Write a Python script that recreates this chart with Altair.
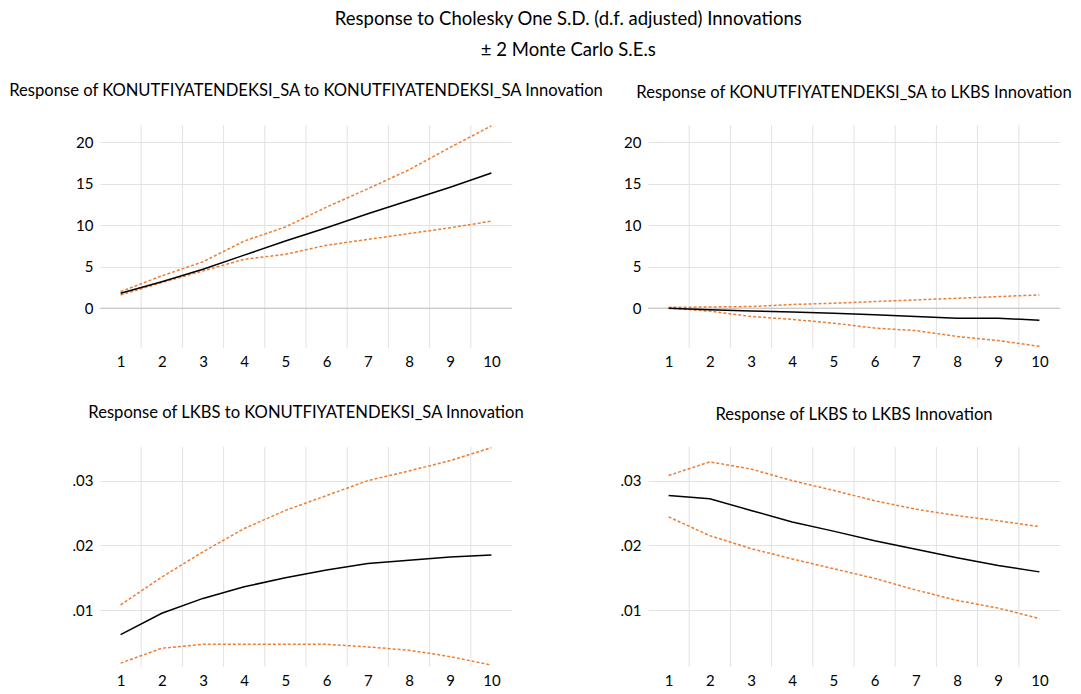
import altair as alt
import pandas as pd

steps = [1, 2, 3, 4, 5, 6, 7, 8, 9, 10]
boundaries = [1.5, 2.5, 3.5, 4.5, 5.5, 6.5, 7.5, 8.5, 9.5]

main_title = "Response to Cholesky One S.D. (d.f. adjusted) Innovations"
sub_title = "± 2 Monte Carlo S.E.s"

tl_title = "Response of KONUTFIYATENDEKSI_SA to KONUTFIYATENDEKSI_SA Innovation"
tl_resp = [1.8, 3.2, 4.7, 6.4, 8.1, 9.7, 11.4, 13.0, 14.6, 16.3]
tl_upper = [2.0, 3.9, 5.6, 8.1, 9.8, 12.2, 14.4, 16.7, 19.4, 22.0]
tl_lower = [1.6, 3.1, 4.5, 5.9, 6.5, 7.6, 8.3, 9.0, 9.7, 10.5]

tr_title = "Response of KONUTFIYATENDEKSI_SA to LKBS Innovation"
tr_resp = [0.0, -0.2, -0.35, -0.45, -0.6, -0.8, -1.0, -1.2, -1.2, -1.45]
tr_upper = [0.1, 0.15, 0.2, 0.45, 0.6, 0.8, 1.0, 1.2, 1.4, 1.6]
tr_lower = [0.0, -0.35, -1.0, -1.35, -1.8, -2.4, -2.7, -3.4, -3.9, -4.6]

bl_title = "Response of LKBS to KONUTFIYATENDEKSI_SA Innovation"
bl_resp = [0.0062, 0.0095, 0.0118, 0.0136, 0.0150, 0.0162, 0.0172, 0.0177, 0.0182, 0.0185]
bl_upper = [0.0108, 0.0151, 0.0190, 0.0226, 0.0254, 0.0277, 0.0300, 0.0315, 0.0331, 0.0351]
bl_lower = [0.0018, 0.0041, 0.0047, 0.0047, 0.0047, 0.0047, 0.0043, 0.0038, 0.0028, 0.0015]

br_title = "Response of LKBS to LKBS Innovation"
br_resp = [0.0277, 0.0272, 0.0254, 0.0236, 0.0222, 0.0207, 0.0194, 0.0181, 0.0169, 0.0159]
br_upper = [0.0308, 0.0329, 0.0318, 0.0300, 0.0285, 0.0269, 0.0256, 0.0246, 0.0238, 0.0229]
br_lower = [0.0244, 0.0215, 0.0195, 0.0179, 0.0164, 0.0149, 0.0131, 0.0115, 0.0103, 0.0087]

top_domain = [-4.8, 22.1]
top_ticks = [0, 5, 10, 15, 20]
bot_domain = [0.0012, 0.0352]
bot_ticks = [0.01, 0.02, 0.03]

FONT = "Lato"
GRID = "#e2e2e2"
ORANGE = "#ED7D31"


def panel(title, resp, upper, lower, ydomain, yticks, small, w, h, zero_line):
    band = pd.concat([
        pd.DataFrame({"step": steps, "value": upper, "band": "upper"}),
        pd.DataFrame({"step": steps, "value": lower, "band": "lower"}),
    ])
    main = pd.DataFrame({"step": steps, "value": resp})
    xenc = alt.X(
        "step:Q",
        scale=alt.Scale(domain=[0.5, 10.5], nice=False, zero=False),
        axis=alt.Axis(values=steps, grid=False, domain=False, ticks=False,
                      labelPadding=6, labelFont=FONT, labelFontSize=15,
                      labelColor="#000000", title=None, labelFlush=False),
    )
    yaxis = dict(values=yticks, grid=True, gridColor=GRID, gridWidth=1,
                 domain=False, ticks=False, labelPadding=7, labelFont=FONT,
                 labelFontSize=15, labelColor="#000000", title=None)
    if small:
        yaxis["labelExpr"] = "substring(format(datum.value, '.2f'), 1)"
    yenc = alt.Y("value:Q", scale=alt.Scale(domain=ydomain, nice=False, zero=False),
                 axis=alt.Axis(**yaxis))

    vgrid = alt.Chart(pd.DataFrame({"step": boundaries})).mark_rule(
        color=GRID, strokeWidth=1).encode(x=xenc)
    layers = [vgrid]
    if zero_line:
        zl = alt.Chart(pd.DataFrame({"value": [0]})).mark_rule(
            color="#bfbfbf", strokeWidth=1).encode(y=yenc)
        layers.append(zl)
    bands = alt.Chart(band).mark_line(
        color=ORANGE, strokeWidth=1.5, strokeDash=[3, 2], clip=False).encode(
        x=xenc, y=yenc, detail="band:N")
    line = alt.Chart(main).mark_line(color="#000000", strokeWidth=1.5, clip=False).encode(
        x=xenc, y=yenc)
    layers += [bands, line]
    return alt.layer(*layers).properties(
        width=w, height=h,
        title=alt.TitleParams(title, font=FONT, fontSize=16.6, fontWeight="normal",
                              color="#000000", anchor="middle", offset=23),
    )


tl = panel(tl_title, tl_resp, tl_upper, tl_lower, top_domain, top_ticks, False, 412, 223, True)
tr = panel(tr_title, tr_resp, tr_upper, tr_lower, top_domain, top_ticks, False, 412, 223, True)
bl = panel(bl_title, bl_resp, bl_upper, bl_lower, bot_domain, bot_ticks, True, 412, 220, False)
br = panel(br_title, br_resp, br_upper, br_lower, bot_domain, bot_ticks, True, 412, 220, False)

chart = alt.ConcatChart(
    concat=[tl, tr, bl, br], columns=2,
    spacing={"row": 99, "column": 136}, bounds="flush",
).properties(
    title=alt.TitleParams(main_title, subtitle=sub_title, font=FONT, fontSize=18.5,
                          fontWeight="normal", color="#000000", subtitleFont=FONT,
                          subtitleFontSize=18.5, subtitleColor="#000000",
                          subtitlePadding=12, anchor="middle", offset=24, dx=28),
    padding={"left": 0, "top": 2, "right": 0, "bottom": 0},
    background="white",
).configure_view(stroke=None)

chart.save("out.html", embed_options={"renderer": "svg", "actions": False})
